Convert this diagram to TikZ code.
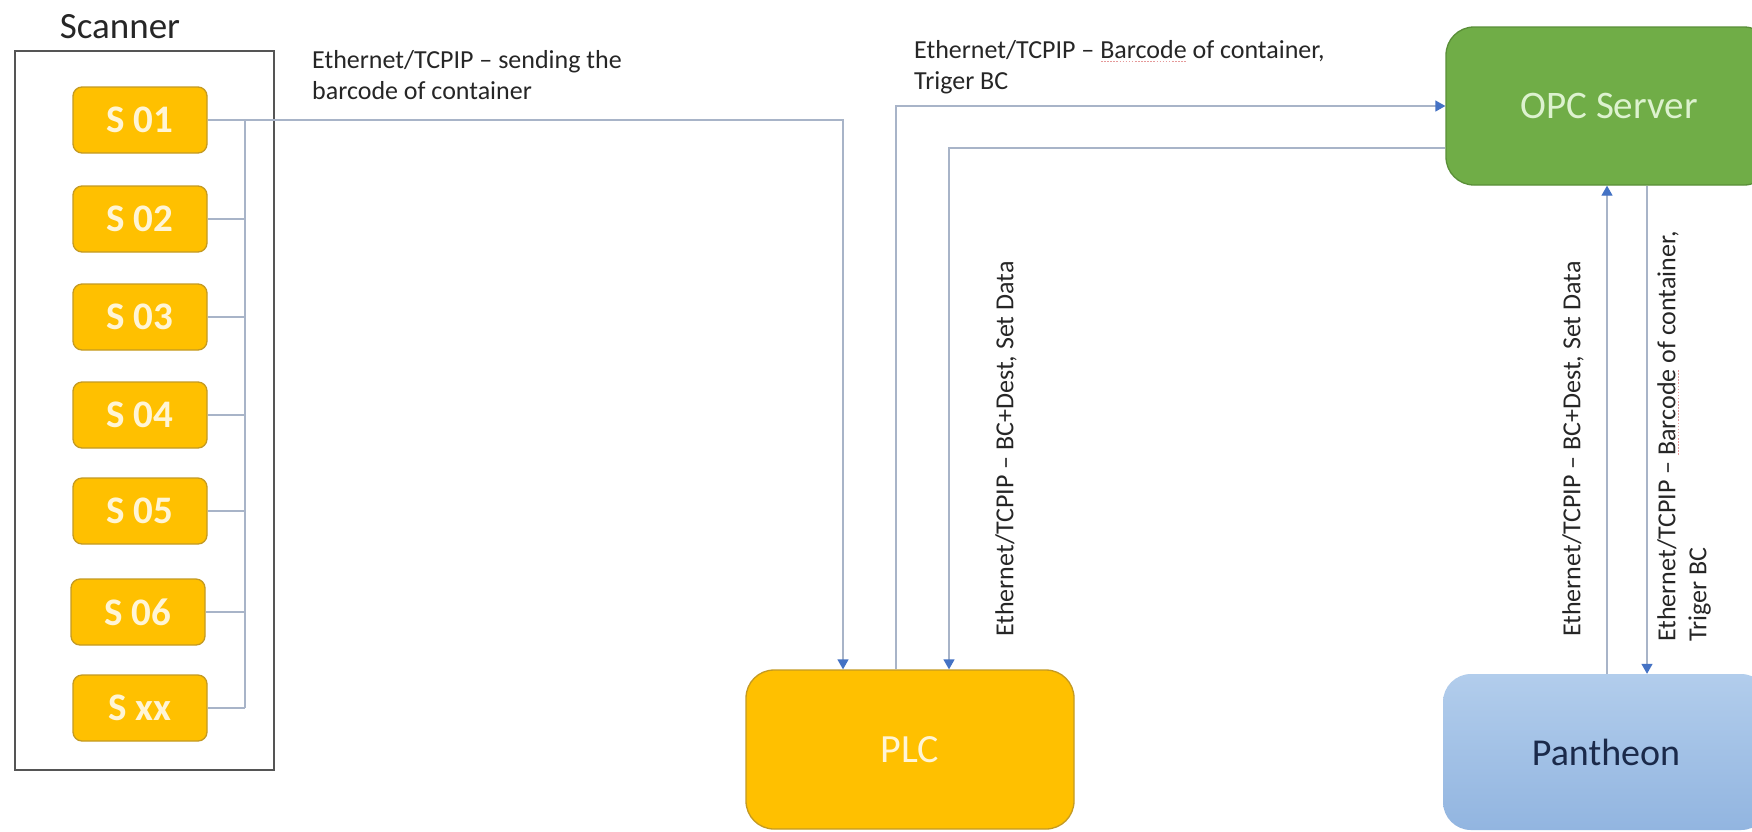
\documentclass[tikz,border=0pt]{standalone}
\usepackage{fontspec}
\setmainfont{Carlito}
\usetikzlibrary{arrows.meta}
\definecolor{sfill}{HTML}{FFC000}
\definecolor{sborder}{HTML}{C49A22}
\definecolor{stext}{HTML}{FFF5D6}
\definecolor{opcfill}{HTML}{70AD47}
\definecolor{opcborder}{HTML}{5A8F38}
\definecolor{opctext}{HTML}{DDF2CF}
\definecolor{pantop}{HTML}{B2CDEC}
\definecolor{panbot}{HTML}{92B5E0}
\definecolor{pantext}{HTML}{1B2A4A}
\definecolor{wire}{HTML}{A8B4C8}
\definecolor{tipblue}{HTML}{4472C4}
\definecolor{framegray}{HTML}{555555}
\definecolor{labeltext}{HTML}{262626}
\definecolor{squig}{HTML}{E59A9A}
\newsavebox\spbox
\newcommand\spellmark[1]{\sbox\spbox{#1}\rlap{\textcolor{squig}{\hbox to\wd\spbox{\xleaders\hbox to 3pt{\hss\rule[-4pt]{1.6pt}{1.2pt}\hss}\hfil}}}#1}
\tikzset{
  sbox/.style={draw=sborder, line width=1.3pt, fill=sfill, rounded corners=9pt,
    minimum width=134pt, minimum height=66pt, inner sep=0pt,
    text=stext, font=\fontsize{39}{44}\selectfont\bfseries},
  bigbox/.style={rounded corners=28pt, inner sep=0pt, minimum width=328pt, minimum height=159pt},
  wireline/.style={draw=wire, line width=1.3pt},
  arrline/.style={draw=wire, line width=1.3pt, -{Triangle[width=11pt,length=10pt,color=tipblue]}},
  lbl/.style={inner sep=0pt, text=labeltext, align=left, font=\fontsize{26}{31}\selectfont}
}
\begin{document}
\begin{tikzpicture}[x=1pt,y=-1pt]
\useasboundingbox (0,0) rectangle (1752,831);
\clip (0,0) rectangle (1752,831);
\fill[white] (0,0) rectangle (1752,831);

% Scanner frame and title
\node[draw=framegray, line width=1.8pt, inner sep=0pt, minimum width=259pt, minimum height=719pt] (frame) at (144.5,410.5) {};
\node[anchor=base, inner sep=0pt, text=labeltext, font=\fontsize{37}{40}\selectfont] (title) at (120,38) {Scanner};

% scanner units
\node[sbox] (s1) at (140,120) {S 01};
\node[sbox] (s2) at (140,219) {S 02};
\node[sbox] (s3) at (140,317) {S 03};
\node[sbox] (s4) at (140,415) {S 04};
\node[sbox] (s5) at (140,511) {S 05};
\node[sbox] (s6) at (138,612) {S 06};
\node[sbox] (sx) at (140,708) {S xx};

% main boxes
\node[bigbox, draw=sborder, line width=1.3pt, fill=sfill, text=stext, font=\fontsize{40}{44}\selectfont] (plc) at (910,749.5) {PLC};
\node[bigbox, draw=opcborder, line width=1.3pt, fill=opcfill, text=opctext, font=\fontsize{39}{44}\selectfont, minimum width=326pt, minimum height=158pt] (opc) at (1609,106) {OPC Server};
\node[bigbox, top color=pantop, bottom color=panbot, draw=none, text=pantext, font=\fontsize{38}{44}\selectfont, minimum width=326pt, minimum height=156pt] (pan) at (1606,752) {Pantheon};

% helper coordinates
\coordinate (bus) at (245,0);
\coordinate (a1) at (843,0);
\coordinate (a2) at (896,0);
\coordinate (a3) at (949,0);
\coordinate (a4) at (1607,0);
\coordinate (a5) at (1647,0);
\coordinate (h3) at (0,148);

% scanner bus
\draw[wireline] (s1.east -| bus) -- (sx.east -| bus);
\foreach \s in {s2,s3,s4,s5,s6,sx} {
  \draw[wireline] (\s.east) -- (\s.east -| bus);
}
\draw[arrline] (s1.east) -| (a1 |- plc.north);

% PLC <-> OPC
\draw[arrline] (a2 |- plc.north) |- (opc.west);
\draw[arrline] (h3 -| opc.west) -| (a3 |- plc.north);

% OPC <-> Pantheon
\draw[arrline] (a4 |- pan.north) -- (a4 |- opc.south);
\draw[arrline] (a5 |- opc.south) -- (a5 |- pan.north);

% labels
\node[lbl, anchor=north west] (l1) at (312,50) {Ethernet/TCPIP – sending the\\barcode of container};
\node[lbl, anchor=north west] (l2) at (914,40) {Ethernet/TCPIP – \spellmark{Barcode} of container,\\Triger BC};
\node[lbl, rotate=90, anchor=west] (l3) at (1006,637) {Ethernet/TCPIP – BC+Dest, Set Data};
\node[lbl, rotate=90, anchor=west] (l4) at (1573,637) {Ethernet/TCPIP – BC+Dest, Set Data};
\node[lbl, rotate=90, anchor=west] (l5) at (1684,642) {Ethernet/TCPIP – \spellmark{Barcode} of container,\\Triger BC};
\end{tikzpicture}
\end{document}
